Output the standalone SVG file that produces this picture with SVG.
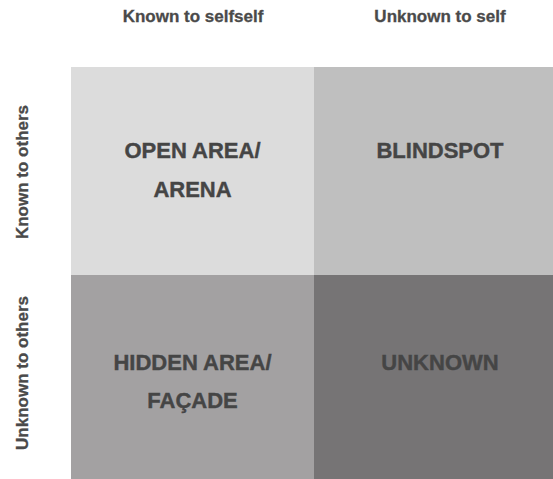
<svg xmlns="http://www.w3.org/2000/svg" width="553" height="479" viewBox="0 0 553 479">
<style>
.hdr{font-family:"Liberation Sans",Arimo,Arial,sans-serif;font-weight:700;font-size:17px;fill:#4a4a4a;stroke:#4a4a4a;stroke-width:0.3;text-anchor:middle}
.lbl{font-family:"Liberation Sans",Arimo,Arial,sans-serif;font-weight:700;font-size:22px;fill:#454545;stroke:#454545;stroke-width:0.4;text-anchor:middle}
</style>
<rect width="553" height="479" fill="#ffffff"/>
<g id="headers">
<text class="hdr" x="193" y="22">Known to selfself</text>
<text class="hdr" x="440" y="22">Unknown to self</text>
<text class="hdr" transform="translate(28,172) rotate(-90)">Known to others</text>
<text class="hdr" transform="translate(28,373) rotate(-90)">Unknown to others</text>
</g>
<g id="open">
<rect x="71" y="67" width="243" height="208" fill="#dcdcdc"/>
<text class="lbl" x="192.5" y="158">OPEN AREA/</text>
<text class="lbl" x="192.5" y="197">ARENA</text>
</g>
<g id="blindspot">
<rect x="314" y="67" width="239" height="208" fill="#bfbfbf"/>
<text class="lbl" x="440" y="158">BLINDSPOT</text>
</g>
<g id="hidden">
<rect x="71" y="275" width="243" height="204" fill="#a3a1a2"/>
<text class="lbl" x="192.5" y="370">HIDDEN AREA/</text>
<text class="lbl" x="192.5" y="408">FAÇADE</text>
</g>
<g id="unknown">
<rect x="314" y="275" width="239" height="204" fill="#767475"/>
<text class="lbl" x="440" y="370">UNKNOWN</text>
</g>
<g id="connectors"/>
</svg>
